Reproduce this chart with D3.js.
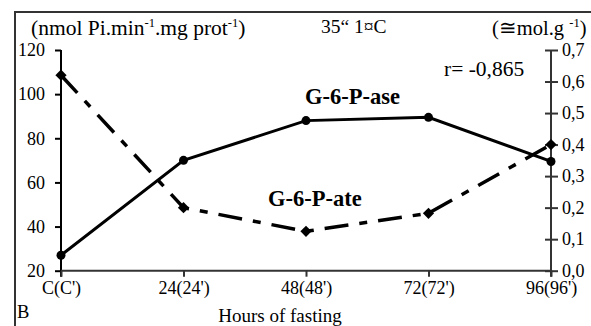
<!DOCTYPE html>
<html>
<head>
<meta charset="utf-8">
<script src="https://cdn.jsdelivr.net/npm/d3@7"></script>
<style>
  html, body { margin: 0; padding: 0; background: #fff; }
  svg { display: block; }
  text { font-family: "Liberation Serif", "Times New Roman", serif; fill: #000; }
</style>
</head>
<body>
<svg id="chart" width="591" height="326"></svg>
<script>
// Fasting time points (control plus hours of fasting)
const categories = ["C(C')", "24(24')", "48(48')", "72(72')", "96(96')"];
// Glucose-6-phosphatase activity, nmol Pi.min-1.mg prot-1 (left axis)
const g6pase = [27, 70, 88, 89.5, 69.5];
// Glucose-6-phosphate content, µmol.g-1 (right axis)
const g6pate = [0.62, 0.20, 0.125, 0.182, 0.40];
// Axis tick values
const leftTicks = [20, 40, 60, 80, 100, 120];
const rightTicks = [0, 0.1, 0.2, 0.3, 0.4, 0.5, 0.6, 0.7];

const svg = d3.select("#chart");
const W = 591, H = 326;
const plot = { left: 61, right: 551, top: 50, bottom: 270.7 };

const x = d3.scalePoint().domain(categories).range([plot.left, plot.right]).padding(0);
const yL = d3.scaleLinear().domain([20, 120]).range([plot.bottom, plot.top]);
const yR = d3.scaleLinear().domain([0, 0.7]).range([plot.bottom, plot.top]);

// Outer frame (left and top edges)
svg.append("path")
  .attr("d", `M15,${H} L15,12 L${W},12`)
  .attr("fill", "none").attr("stroke", "#333").attr("stroke-width", 2);

const tickFont = 18;

// Left axis: outward ticks, labels right-aligned
const leftAxis = svg.append("g").attr("transform", `translate(${plot.left},0)`)
  .call(d3.axisLeft(yL).tickValues(leftTicks).tickSize(6).tickPadding(10).tickFormat(d3.format("d")));
leftAxis.select(".domain").attr("d", `M0,${plot.top}V${plot.bottom + 6}`).attr("stroke", "#000").attr("stroke-width", 2);
leftAxis.selectAll(".tick line").attr("stroke", "#000").attr("stroke-width", 2);
leftAxis.selectAll(".tick text").attr("font-size", tickFont).attr("font-family", "Liberation Serif");

// Right axis: ticks cross the axis line
const rightAxis = svg.append("g").attr("transform", `translate(${plot.right},0)`)
  .call(d3.axisRight(yR).tickValues(rightTicks).tickSize(6).tickPadding(5)
    .tickFormat(d => d3.format(".1f")(d).replace(".", ",")));
rightAxis.select(".domain").attr("d", `M0,${plot.top}V${plot.bottom + 6}`).attr("stroke", "#333").attr("stroke-width", 2);
rightAxis.selectAll(".tick line").attr("x1", -6).attr("x2", 7).attr("stroke", "#333").attr("stroke-width", 2);
rightAxis.selectAll(".tick text").attr("font-size", tickFont).attr("font-family", "Liberation Serif");

// Bottom axis
const bottomAxis = svg.append("g").attr("transform", `translate(0,${plot.bottom})`)
  .call(d3.axisBottom(x).tickSize(6).tickPadding(5));
bottomAxis.select(".domain").attr("d", `M${plot.left},0H${plot.right}`).attr("stroke", "#333").attr("stroke-width", 2);
bottomAxis.selectAll(".tick line").attr("stroke", "#333").attr("stroke-width", 2);
bottomAxis.selectAll(".tick text").attr("font-size", tickFont).attr("font-family", "Liberation Serif");

// G-6-P-ate: dash-dot line with diamond markers (right axis)
svg.append("path")
  .datum(g6pate)
  .attr("d", d3.line().x((d, i) => x(categories[i])).y(d => yR(d)))
  .attr("fill", "none").attr("stroke", "#000").attr("stroke-width", 3.5)
  .attr("stroke-dasharray", "24,11,8,11");
svg.selectAll(".diamond").data(g6pate).enter().append("path")
  .attr("class", "diamond")
  .attr("d", d3.symbol().type(d3.symbolDiamond2).size(80))
  .attr("transform", (d, i) => `translate(${x(categories[i])},${yR(d)})`)
  .attr("fill", "#000");

// G-6-P-ase: solid line with circle markers (left axis)
svg.append("path")
  .datum(g6pase)
  .attr("d", d3.line().x((d, i) => x(categories[i])).y(d => yL(d)))
  .attr("fill", "none").attr("stroke", "#000").attr("stroke-width", 3);
svg.selectAll(".dot").data(g6pase).enter().append("circle")
  .attr("class", "dot")
  .attr("cx", (d, i) => x(categories[i]))
  .attr("cy", d => yL(d))
  .attr("r", 4.5)
  .attr("fill", "#000");

// Unit labels with superscripts
const supFont = 12.5, supShift = 8;
const leftUnit = svg.append("text").attr("x", 31).attr("y", 35).attr("font-size", 21.5);
leftUnit.append("tspan").text("(nmol Pi.min");
leftUnit.append("tspan").attr("dy", -supShift).attr("font-size", supFont).text("-1");
leftUnit.append("tspan").attr("dy", supShift).text(".mg prot");
leftUnit.append("tspan").attr("dy", -supShift).attr("font-size", supFont).text("-1");
leftUnit.append("tspan").attr("dy", supShift).text(")");

const rightUnit = svg.append("text").attr("x", 492).attr("y", 35).attr("font-size", 20.5);
rightUnit.append("tspan").text("(\u2245mol.g ");
rightUnit.append("tspan").attr("dy", -supShift).attr("font-size", supFont).text("-1");
rightUnit.append("tspan").attr("dy", supShift).text(")");

// Temperature
svg.append("text").attr("x", 321).attr("y", 33).attr("font-size", 19.5).text("35\u201C  1\u00A4C");

// Correlation coefficient
svg.append("text").attr("x", 444).attr("y", 76).attr("font-size", 21.5).text("r= -0,865");

// Series labels
svg.append("text").attr("x", 305).attr("y", 104).attr("font-size", 22.5).attr("font-weight", "bold").text("G-6-P-ase");
svg.append("text").attr("x", 268).attr("y", 206).attr("font-size", 22.5).attr("font-weight", "bold").text("G-6-P-ate");

// Axis title and panel letter
svg.append("text").attr("x", 280).attr("y", 322).attr("text-anchor", "middle").attr("font-size", 19).text("Hours of fasting");
svg.append("text").attr("x", 17).attr("y", 318).attr("font-size", 18.5).text("B");
</script>
</body>
</html>
